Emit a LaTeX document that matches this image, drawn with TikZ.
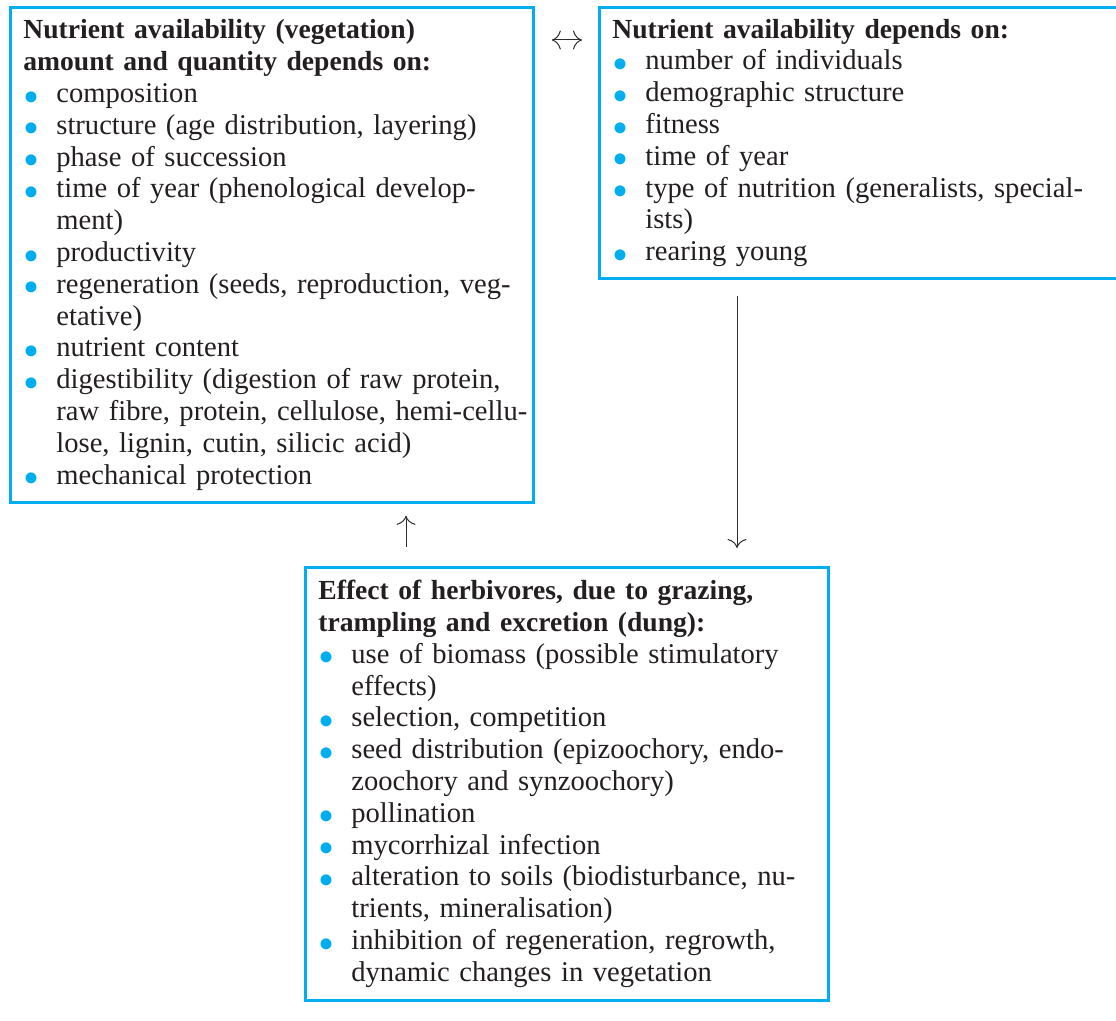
\documentclass[tikz,border=0pt]{standalone}
\usepackage{fontspec}
\usepackage{xcolor}
\setmainfont{Liberation Serif}
\usetikzlibrary{arrows.meta,positioning,calc}
\definecolor{boxblue}{RGB}{0,174,239}
\definecolor{textgray}{RGB}{35,31,32}
\definecolor{linegray}{RGB}{45,45,45}
% bullet line and continuation line of a list
\newcommand{\bul}{\textcolor{boxblue}{\raisebox{-4.8pt}[0pt][0pt]{\scalebox{1.6}{\textbullet}}}}
\newcommand{\itm}[1]{\mbox{\makebox[16.5pt][l]{\bul}#1}}
\newcommand{\cnt}[1]{\mbox{\hspace*{16.5pt}#1}}
\newcommand{\hd}[1]{\mbox{\fontsize{13.8}{15.9}\selectfont\textbf{#1}}}

\begin{document}
\begin{tikzpicture}[x=0.5pt, y=-0.5pt,
        box/.style={rectangle, draw=boxblue, line width=1.4pt, anchor=north west, align=left, inner xsep=6.5pt, inner ysep=0pt, text=textgray, font=\fontsize{14.3}{15.9}\selectfont},
        link/.style={draw=linegray, line width=0.5pt, -{Computer Modern Rightarrow[length=4.5pt]}}
    ]
    \useasboundingbox (0,0) rectangle (1116,1021);
    \node[box, text width=248.5pt, minimum height=247.5pt] (veg) at (9,6) {%
        \hd{Nutrient availability (vegetation)}\\
        \hd{amount and quantity depends on:}\\
        \itm{composition}\\
        \itm{structure (age distribution, layering)}\\
        \itm{phase of succession}\\
        \itm{time of year (phenological develop-}\\
        \cnt{ment)}\\
        \itm{productivity}\\
        \itm{regeneration (seeds, reproduction, veg-}\\
        \cnt{etative)}\\
        \itm{nutrient content}\\
        \itm{digestibility (digestion of raw protein,}\\
        \cnt{raw fibre, protein, cellulose, hemi-cellu-}\\
        \cnt{lose, lignin, cutin, silicic acid)}\\
        \itm{mechanical protection}};
    \node[box, text width=248pt, minimum height=135.5pt] (fauna) at (598,6) {%
        \hd{Nutrient availability depends on:}\\
        \itm{number of individuals}\\
        \itm{demographic structure}\\
        \itm{fitness}\\
        \itm{time of year}\\
        \itm{type of nutrition (generalists, special-}\\
        \cnt{ists)}\\
        \itm{rearing young}};
    \node[box, text width=248.5pt, minimum height=216.5pt] (herb) at (304,566) {%
        \hd{Effect of herbivores, due to grazing,}\\
        \hd{trampling and excretion (dung):}\\
        \itm{use of biomass (possible stimulatory}\\
        \cnt{effects)}\\
        \itm{selection, competition}\\
        \itm{seed distribution (epizoochory, endo-}\\
        \cnt{zoochory and synzoochory)}\\
        \itm{pollination}\\
        \itm{mycorrhizal infection}\\
        \itm{alteration to soils (biodisturbance, nu-}\\
        \cnt{trients, mineralisation)}\\
        \itm{inhibition of regeneration, regrowth,}\\
        \cnt{dynamic changes in vegetation}};
    \coordinate (up) at ([xshift=51pt]herb.north west);
    \coordinate (dn) at ([xshift=69.5pt]fauna.south west);
    \draw[link, {Computer Modern Rightarrow[length=4.5pt]}-{Computer Modern Rightarrow[length=4.5pt]}, shorten <=8.5pt, shorten >=8pt] ([yshift=-17pt]veg.north east) -- ([yshift=-17pt]fauna.north west);
    \draw[link, shorten <=9.5pt, shorten >=6pt] (up) -- (up |- veg.south);
    \draw[link, shorten <=8pt, shorten >=9pt] (dn) -- (dn |- herb.north);
\end{tikzpicture}
\end{document}
